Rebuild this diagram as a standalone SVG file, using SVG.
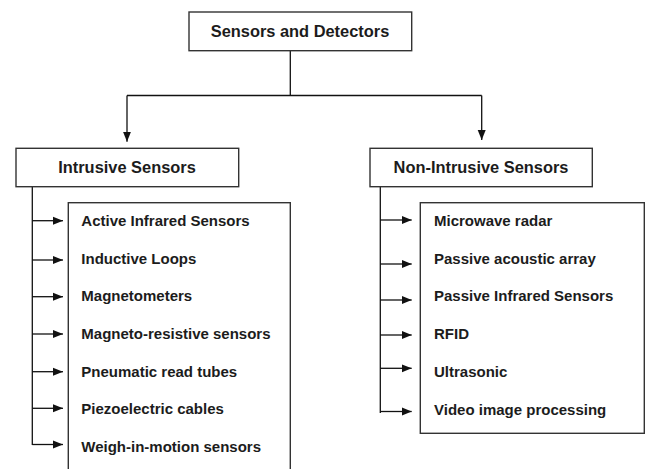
<svg xmlns="http://www.w3.org/2000/svg" width="647" height="469" viewBox="0 0 647 469">
<style>
.box{fill:#fff;stroke:#333;stroke-width:1.4}
.ln{fill:none;stroke:#111;stroke-width:1.3}
.h{font-family:"Liberation Sans",Arial,sans-serif;font-weight:bold;font-size:16.4px;fill:#1c1c1c;text-anchor:middle}
.t{font-family:"Liberation Sans",Arial,sans-serif;font-weight:bold;font-size:15px;fill:#1c1c1c}
</style>
<defs>
<marker id="ah" markerUnits="userSpaceOnUse" markerWidth="12" markerHeight="10" refX="10" refY="4.5" orient="auto">
<path d="M0,0.5 L10,4.5 L0,8.5 Z" fill="#111"/>
</marker>
</defs>
<rect width="647" height="469" fill="#fff"/>
<g id="connectors">
<path class="ln" d="M290.3,50.7 V95.5"/>
<path class="ln" d="M127,95.5 H481.7"/>
<path class="ln" d="M127,95.5 V141.7" marker-end="url(#ah)"/>
<path class="ln" d="M481.7,95.5 V140" marker-end="url(#ah)"/>
<path class="ln" d="M32.3,186.7 V445"/>
<path class="ln" d="M32.3,220.7 H63" marker-end="url(#ah)"/>
<path class="ln" d="M32.3,260 H63" marker-end="url(#ah)"/>
<path class="ln" d="M32.3,296.7 H63" marker-end="url(#ah)"/>
<path class="ln" d="M32.3,334 H63" marker-end="url(#ah)"/>
<path class="ln" d="M32.3,371.7 H63" marker-end="url(#ah)"/>
<path class="ln" d="M32.3,408.3 H63" marker-end="url(#ah)"/>
<path class="ln" d="M32.3,444.5 H63" marker-end="url(#ah)"/>
<path class="ln" d="M380.3,186.7 V413"/>
<path class="ln" d="M380.3,220 H411.7" marker-end="url(#ah)"/>
<path class="ln" d="M380.3,264 H411.7" marker-end="url(#ah)"/>
<path class="ln" d="M380.3,300 H411.7" marker-end="url(#ah)"/>
<path class="ln" d="M380.3,335 H411.7" marker-end="url(#ah)"/>
<path class="ln" d="M380.3,368.3 H411.7" marker-end="url(#ah)"/>
<path class="ln" d="M380.3,411.5 H411.7" marker-end="url(#ah)"/>
</g>
<g id="root">
<rect class="box" x="189" y="12" width="222.7" height="38.7"/>
<text class="h" x="300" y="36.5">Sensors and Detectors</text>
</g>
<g id="intrusive">
<rect class="box" x="16" y="148.3" width="222.7" height="38.4"/>
<text class="h" x="127" y="172.7">Intrusive Sensors</text>
</g>
<g id="non-intrusive">
<rect class="box" x="370" y="148.3" width="222.3" height="38.4"/>
<text class="h" x="481" y="172.7">Non-Intrusive Sensors</text>
</g>
<g id="intrusive-list">
<rect class="box" x="68.3" y="202.7" width="222" height="280"/>
<text class="t" x="81.3" y="226">Active Infrared Sensors</text>
<text class="t" x="81.3" y="263.7">Inductive Loops</text>
<text class="t" x="81.3" y="301.3">Magnetometers</text>
<text class="t" x="81.3" y="339">Magneto-resistive sensors</text>
<text class="t" x="81.3" y="376.7">Pneumatic read tubes</text>
<text class="t" x="81.3" y="414.3">Piezoelectric cables</text>
<text class="t" x="81.3" y="452">Weigh-in-motion sensors</text>
</g>
<g id="non-intrusive-list">
<rect class="box" x="420.3" y="202.7" width="224" height="230.6"/>
<text class="t" x="434" y="226">Microwave radar</text>
<text class="t" x="434" y="263.7">Passive acoustic array</text>
<text class="t" x="434" y="301.3">Passive Infrared Sensors</text>
<text class="t" x="434" y="339">RFID</text>
<text class="t" x="434" y="376.7">Ultrasonic</text>
<text class="t" x="434" y="414.5">Video image processing</text>
</g>
</svg>
